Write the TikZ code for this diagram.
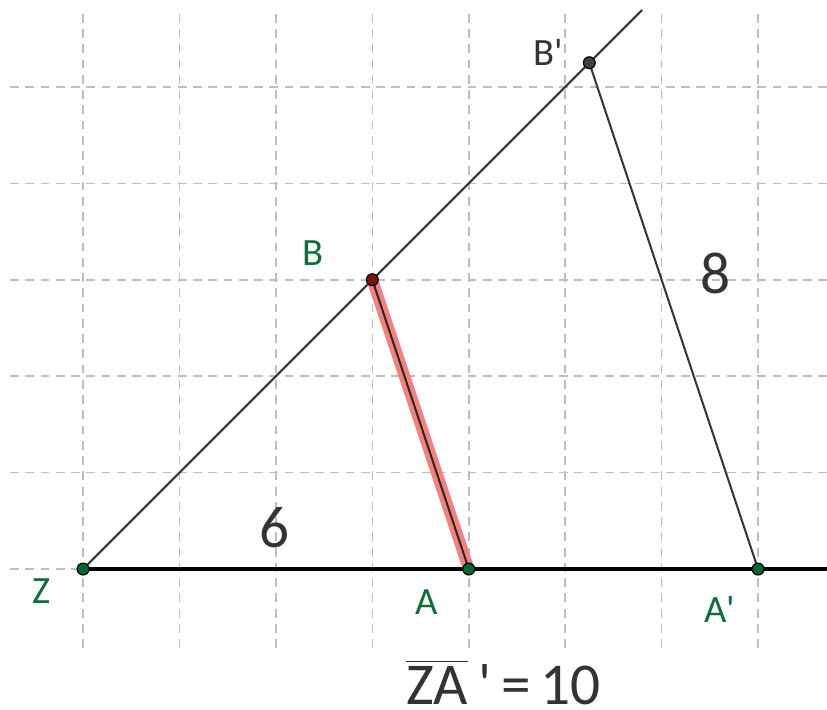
\documentclass[tikz,border=0pt]{standalone}
\usepackage{fontspec}
\setmainfont{Carlito}
\definecolor{ptgreen}{RGB}{0,102,51}
\definecolor{lblgreen}{RGB}{16,110,60}
\definecolor{txtgray}{RGB}{51,51,51}
\definecolor{gridgray}{RGB}{190,190,190}
\definecolor{hlred}{RGB}{246,128,128}
\definecolor{ptred}{RGB}{128,16,16}
\definecolor{ptgray}{RGB}{64,64,64}
\newcommand{\sq}{\textquotesingle}
\begin{document}
\begin{tikzpicture}[x=1cm,y=1cm,
  gridline/.style={draw=gridgray, line width=0.45pt, dash pattern=on 2.6pt off 1.9pt},
  thinline/.style={draw=black!78, line width=0.6pt},
  axisline/.style={draw=black, line width=1pt},
  pt/.style={circle, draw=black, line width=0.35pt, inner sep=0pt, minimum size=3.5pt},
  ptlabel/.style={inner sep=0pt, anchor=center, font=\fontsize{11.4}{13}\selectfont},
  biglabel/.style={inner sep=0pt, anchor=center, text=txtgray, font=\fontsize{17.5}{20}\selectfont}]
\useasboundingbox (-0.861,-1.452) rectangle (7.715,5.901);
% grid
\foreach \x in {0,...,7} \draw[gridline] (\x,-0.819) -- (\x,5.797);
\foreach \y in {0,...,5} \draw[gridline] (-0.757,\y) -- (7.715,\y);
% coordinates
\coordinate (Zc) at (0,0);
\coordinate (Ac) at (4,0);
\coordinate (Apc) at (7,0);
\coordinate (Bc) at (3,3);
\coordinate (Bpc) at (5.25,5.25);
\coordinate (rayend) at (5.797,5.797);
\coordinate (axisend) at (7.715,0);
% lines
\draw[axisline] (Zc) -- (axisend);
\draw[thinline] (Zc) -- (rayend);
\draw[thinline] (Bpc) -- (Apc);
\draw[hlred, line width=3.4pt] (Ac) -- (Bc);
\draw[black!85, line width=0.6pt] (Ac) -- (Bc);
% points
\node[pt, fill=ptgreen] (Z) at (Zc) {};
\node[pt, fill=ptgreen] (A) at (Ac) {};
\node[pt, fill=ptgreen] (Ap) at (Apc) {};
\node[pt, fill=ptred] (B) at (Bc) {};
\node[pt, fill=ptgray] (Bp) at (Bpc) {};
% labels
\node[ptlabel, text=lblgreen] (lZ) at (-0.425,-0.228) {Z};
\node[ptlabel, text=lblgreen] (lA) at (3.567,-0.342) {A};
\node[ptlabel, text=lblgreen] (lAp) at (6.606,-0.415) {A\sq};
\node[ptlabel, text=lblgreen] (lB) at (2.385,3.277) {B};
\node[ptlabel, text=txtgray] (lBp) at (4.822,5.361) {B\sq};
\node[biglabel] (six) at (1.991,0.425) {6};
\node[biglabel] (eight) at (6.554,3.07) {8};
\node[biglabel, anchor=base] (za) at (4.361,-1.405) {$\overline{\hbox{ZA}}$\,\sq\,=\,10};
\end{tikzpicture}
\end{document}
